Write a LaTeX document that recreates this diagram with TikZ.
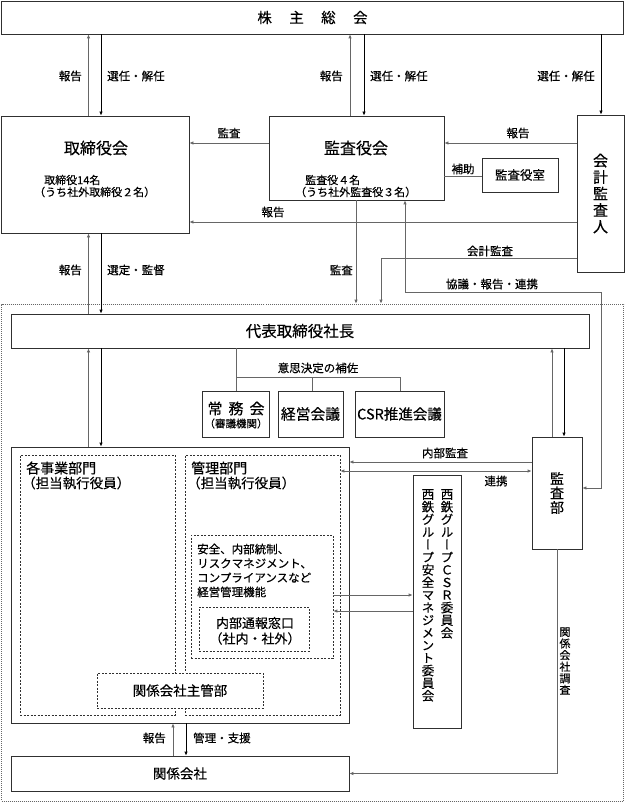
\documentclass[tikz,border=0pt]{standalone}
\usepackage{fontspec}
\setmainfont{Noto Sans CJK JP}[FakeBold=0.35]
\newfontfamily\vjp[RawFeature=+vert,FakeBold=0.35]{Noto Sans CJK JP}
\usetikzlibrary{arrows.meta,calc}
\definecolor{boxc}{HTML}{303030}
\definecolor{lnc}{HTML}{666666}
\newcommand{\jfs}[1]{\fontsize{#1}{#1}\selectfont}
\begin{document}
\begin{tikzpicture}[x=1pt,y=-1pt,
  >={Latex[length=4pt,width=3.4pt]},
  bx/.style={draw=boxc,line width=0.75pt,fill=white,inner sep=0pt,align=center},
  dbx/.style={draw=boxc,line width=0.6pt,dash pattern=on 2pt off 1.5pt,inner sep=0pt},
  cg/.style={draw=lnc,line width=0.75pt},
  cb/.style={draw=black,line width=0.75pt},
  lab/.style={inner sep=0pt,font=\jfs{11.5}},
  txt/.style={inner sep=0pt}]
\useasboundingbox (0,0) rectangle (625,802);

% outer dotted area
\node[draw=lnc,line width=0.6pt,dash pattern=on 1pt off 1pt,inner sep=0pt,minimum width=622pt,minimum height=497pt] (outer) at (312.5,552.5) {};

% top boxes
\node[bx,minimum width=622pt,minimum height=33pt,font=\jfs{14.5}] (sh) at (312.5,17.5) {株\hspace{1.2em}主\hspace{1.2em}総\hspace{1.2em}会};
\node[bx,minimum width=188pt,minimum height=117pt] (tb) at (95,174.5) {};
\node[txt,font=\jfs{16}] (tbt) at (96,148) {取締役会};
\node[txt,anchor=west,font=\jfs{11}] (tbs1) at (44,180) {取締役14名};
\node[txt,anchor=west,font=\jfs{11}] (tbs2) at (34,192) {（うち社外取締役２名）};

\node[bx,minimum width=175pt,minimum height=84pt] (ks) at (356.5,158) {};
\node[txt,font=\jfs{16}] (kst) at (356,148) {監査役会};
\node[txt,anchor=west,font=\jfs{11}] (kss1) at (305,180) {監査役４名};
\node[txt,anchor=west,font=\jfs{11}] (kss2) at (295,192) {（うち社外監査役３名）};

\node[bx,minimum width=76pt,minimum height=34pt,font=\jfs{12.5}] (kss) at (520,175) {監査役室};
\node[bx,minimum width=47pt,minimum height=157pt,font=\fontsize{15}{16.5}\selectfont] (kk) at (600.5,193.5) {会\\計\\監\\査\\人};

% president
\node[bx,minimum width=578pt,minimum height=34pt,font=\jfs{15.5}] (dh) at (300,331) {代表取締役社長};

% meetings
\node[bx,minimum width=67pt,minimum height=46pt] (jm) at (235.5,414) {};
\node[txt,font=\jfs{15}] (jmt) at (236,408.5) {常\hspace{0.4em}務\hspace{0.4em}会};
\node[txt,font=\jfs{10.5}] (jms) at (236,423.5) {（審議機関）};
\node[bx,minimum width=65pt,minimum height=46pt,font=\jfs{14.8}] (kg) at (310.5,414) {経営会議};
\node[bx,minimum width=89pt,minimum height=46pt,font=\jfs{14.5}] (csr) at (399.5,414) {CSR推進会議};

% business area
\node[bx,minimum width=338pt,minimum height=276pt] (big) at (180,585) {};
\node[dbx,minimum width=155pt,minimum height=260pt] (jg) at (97.5,585) {};
\node[dbx,minimum width=155pt,minimum height=260pt] (kr) at (262.5,585) {};
\node[txt,anchor=west,font=\jfs{14}] (jgt1) at (26,468) {各事業部門};
\node[txt,anchor=west,font=\jfs{13.5}] (jgt2) at (22,483) {（担当執行役員）};
\node[txt,anchor=west,font=\jfs{14}] (krt1) at (191,468) {管理部門};
\node[txt,anchor=west,font=\jfs{13.5}] (krt2) at (187,483) {（担当執行役員）};
\node[dbx,minimum width=142pt,minimum height=123pt] (anzen) at (262,596.5) {};
\node[txt,anchor=west,align=left,font=\fontsize{11.5}{14.3}\selectfont] (anzt) at (197,570.5) {安全、内部統制、\\リスクマネジメント、\\コンプライアンスなど\\経営管理機能};
\node[dbx,minimum width=110pt,minimum height=44pt] (tsuho) at (254,629) {};
\node[txt,font=\jfs{13}] (tst1) at (255,623) {内部通報窓口};
\node[txt,font=\jfs{13}] (tst2) at (255,638.5) {（社内・社外）};
\node[dbx,fill=white,minimum width=166pt,minimum height=35pt,font=\jfs{13.5}] (shukan) at (180,690.5) {関係会社主管部};

% committees and audit dept
\node[bx,minimum width=48pt,minimum height=253pt] (nishi) at (437,601.5) {};
\node[txt,anchor=north,align=center,font=\fontsize{12.5}{12.6}\vjp] (nsr) at (447,489) {西\\鉄\\グ\\ル\\ー\\プ\\Ｃ\\Ｓ\\Ｒ\\委\\員\\会};
\node[txt,anchor=north,align=center,font=\fontsize{12.5}{12.6}\vjp] (nsl) at (428,489) {西\\鉄\\グ\\ル\\ー\\プ\\安\\全\\マ\\ネ\\ジ\\メ\\ン\\ト\\委\\員\\会};
\node[bx,minimum width=50pt,minimum height=112pt,font=\fontsize{14}{14.5}\selectfont] (kansabu) at (557,493) {監\\査\\部};

\node[bx,minimum width=338pt,minimum height=35pt,font=\jfs{13.5}] (kg2) at (180,773.5) {関係会社};

% coordinates
\coordinate (xa) at (88.5,0);
\coordinate (xb) at (101,0);
\coordinate (xc) at (350,0);
\coordinate (xd) at (364,0);
\coordinate (xe) at (601,0);
\coordinate (xf) at (356,0);
\coordinate (xg) at (381,0);
\coordinate (xh) at (405,0);
\coordinate (xi) at (552,0);
\coordinate (xj) at (564,0);
\coordinate (xk) at (236,0);
\coordinate (xl) at (312,0);
\coordinate (xm) at (400,0);
\coordinate (xo) at (173,0);
\coordinate (xp) at (186,0);
\coordinate (y1) at (0,143);
\coordinate (y2) at (0,176);
\coordinate (y3) at (0,222);
\coordinate (y4) at (0,258);
\coordinate (y5) at (0,292);
\coordinate (y6) at (0,488);
\coordinate (y7) at (0,377);
\coordinate (y8) at (0,462);
\coordinate (y9) at (0,471);
\coordinate (y10) at (0,595);
\coordinate (y11) at (0,611);

% connectors
\draw[cg,->] (xa |- tb.north) -- (xa |- sh.south);
\draw[cb,->] (xb |- sh.south) -- (xb |- tb.north);
\draw[cg,->] (xc |- ks.north) -- (xc |- sh.south);
\draw[cb,->] (xd |- sh.south) -- (xd |- ks.north);
\draw[cb,->] (xe |- sh.south) -- (xe |- kk.north);
\draw[cg,->] (ks.west |- y1) -- (tb.east |- y1);
\draw[cg,->] (kk.west |- y1) -- (ks.east |- y1);
\draw[cg] (ks.east |- y2) -- (kss.west |- y2);
\draw[cg,->] (kk.west |- y3) -- (tb.east |- y3);
\draw[cg,->] (xa |- dh.north) -- (xa |- tb.south);
\draw[cb,->] (xb |- tb.south) -- (xb |- dh.north);
\draw[cg,->] (xf |- ks.south) -- (xf |- outer.north);
\draw[cg,->] (kk.west |- y4) -| (xg |- outer.north);
\draw[cg,<->] (xh |- ks.south) |- (xe |- y5) |- (kansabu.east |- y6);
\draw[cg,->] (xa |- big.north) -- (xa |- dh.south);
\draw[cb,->] (xb |- dh.south) -- (xb |- big.north);
\draw[cg,->] (xi |- kansabu.north) -- (xi |- dh.south);
\draw[cb,->] (xj |- dh.south) -- (xj |- kansabu.north);
\draw[cg] (xk |- dh.south) -- (xk |- jm.north);
\draw[cg] (xk |- y7) -- (xm |- y7);
\draw[cg] (xl |- y7) -- (xl |- kg.north);
\draw[cg] (xm |- y7) -- (xm |- csr.north);
\draw[cg,->] (kansabu.west |- y8) -- (big.east |- y8);
\draw[cg,<->] (kr.east |- y9) -- (kansabu.west |- y9);
\draw[cg,->] (anzen.east |- y10) -- (nishi.west |- y10);
\draw[cg,->] (nishi.west |- y11) -- (anzen.east |- y11);
\draw[cg,->] (kansabu.south) |- (kg2.east);
\draw[cg,->] (xo |- kg2.north) -- (xo |- big.south);
\draw[cb,->] (xp |- big.south) -- (xp |- kg2.north);

% labels
\node[lab,anchor=east] (l1) at (82,76) {報告};
\node[lab,anchor=west] (l2) at (107,76) {選任・解任};
\node[lab,anchor=east] (l3) at (343,76) {報告};
\node[lab,anchor=west] (l4) at (370,76) {選任・解任};
\node[lab,anchor=east] (l5) at (595,76) {選任・解任};
\node[lab] (l6) at (229,133) {監査};
\node[lab] (l7) at (518,133) {報告};
\node[lab] (l8) at (463,169) {補助};
\node[lab] (l9) at (273,212) {報告};
\node[lab,anchor=east] (l10) at (82,270) {報告};
\node[lab,anchor=west] (l11) at (107,270) {選定・監督};
\node[lab,anchor=east] (l12) at (353,270) {監査};
\node[lab] (l13) at (490,251) {会計監査};
\node[lab] (l14) at (492,284) {協議・報告・連携};
\node[lab] (l15) at (318,368) {意思決定の補佐};
\node[lab] (l16) at (445,453) {内部監査};
\node[lab] (l17) at (496,481) {連携};
\node[txt,align=center,font=\fontsize{11}{11.6}\selectfont] (l18) at (565,661) {関\\係\\会\\社\\調\\査};
\node[lab,anchor=east] (l19) at (166,738) {報告};
\node[lab,anchor=west] (l20) at (193,738) {管理・支援};
\end{tikzpicture}
\end{document}
